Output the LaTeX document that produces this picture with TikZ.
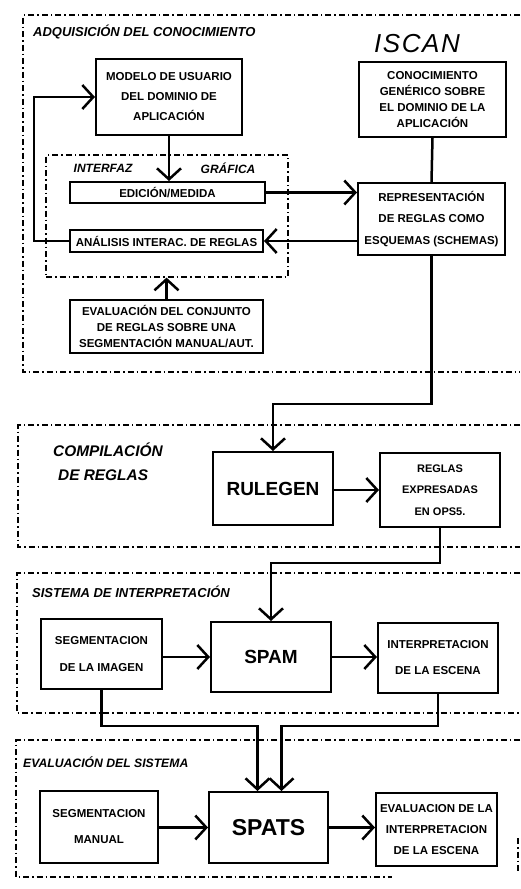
\documentclass[tikz,border=0pt]{standalone}
\usepackage{fontspec}
\setmainfont{Liberation Sans}
\usetikzlibrary{arrows.meta}

\tikzset{
  frame/.style={line width=1.2pt, dash pattern=on 6pt off 3pt on 1.5pt off 3pt},
  block/.style={draw, line width=2pt, inner sep=0pt, align=center,
    font=\fontsize{11.5}{20}\selectfont\bfseries},
  bigblock/.style={block, font=\fontsize{19}{22}\selectfont\bfseries},
  section/.style={inner sep=0pt, font=\fontsize{13}{15}\selectfont\bfseries\itshape},
  conn/.style={line width=2.5pt},
  arr/.style={conn, -{Straight Barb[length=11pt,width=24pt,line width=2.5pt]}}
}

\begin{document}
\begin{tikzpicture}[x=1pt,y=-1pt]
\useasboundingbox (0,0) rectangle (520,889);

% section frames (open on the right)
\draw[frame] (520,15) -- (23,15) -- (23,372) -- (520,372);
\draw[frame] (520,425) -- (18,425) -- (18,547) -- (520,547);
\draw[frame] (520,573) -- (17,573) -- (17,713) -- (520,713);
\draw[frame] (520,740) -- (16,740) -- (16,877) -- (392,877);
\draw[frame] (518,838) -- (518,872);

% section titles
\node[section, anchor=west] (tadq) at (33,32) {ADQUISICIÓN DEL CONOCIMIENTO};
\node[inner sep=0pt, font=\fontsize{26}{28}\selectfont\itshape\addfontfeatures{LetterSpace=6}] (iscan) at (417,44) {ISCAN};
\node[section, anchor=west, font=\fontsize{15.4}{18}\selectfont\bfseries\itshape] (tcomp1) at (53,450) {COMPILACIÓN};
\node[section, anchor=west, font=\fontsize{15.4}{18}\selectfont\bfseries\itshape] (tcomp2) at (58,475) {DE REGLAS};
\node[section, anchor=west] (tsis) at (32,592) {SISTEMA DE INTERPRETACIÓN};
\node[section, anchor=west, font=\fontsize{12.2}{14}\selectfont\bfseries\itshape] (teval) at (23,762) {EVALUACIÓN DEL SISTEMA};

% graphical interface frame
\node[frame, draw, minimum width=242pt, minimum height=122pt, inner sep=0pt] (iface) at (167,216) {};
\node[section, font=\fontsize{12}{14}\selectfont\bfseries\itshape] (tint) at (103,168) {INTERFAZ};
\node[section, font=\fontsize{12}{14}\selectfont\bfseries\itshape] (tgraf) at (228,168) {GRÁFICA};

% knowledge acquisition blocks
\node[block, minimum width=146pt, minimum height=76pt] (modelo) at (169,97)
  {MODELO DE USUARIO\\DEL DOMINIO DE\\APLICACIÓN};
\node[block, minimum width=147pt, minimum height=75pt, font=\fontsize{11.5}{16}\selectfont\bfseries] (generico) at (432.5,99.5)
  {CONOCIMIENTO\\GENÉRICO SOBRE\\EL DOMINIO DE LA\\APLICACIÓN};
\node[block, minimum width=195pt, minimum height=21pt] (edicion) at (167.5,192.5) {EDICIÓN/MEDIDA};
\node[block, minimum width=193pt, minimum height=22pt] (analisis) at (166.5,241) {ANÁLISIS INTERAC. DE REGLAS};
\node[block, minimum width=147pt, minimum height=72pt, font=\fontsize{11.5}{21.5}\selectfont\bfseries] (repr) at (431.5,219)
  {REPRESENTACIÓN\\DE REGLAS COMO\\ESQUEMAS (SCHEMAS)};
\node[block, minimum width=193pt, minimum height=53pt, font=\fontsize{11.5}{16}\selectfont\bfseries] (evalreg) at (166.5,326.5)
  {EVALUACIÓN DEL CONJUNTO\\DE REGLAS SOBRE UNA\\SEGMENTACIÓN MANUAL/AUT.};

% rule compilation blocks
\node[bigblock, minimum width=120pt, minimum height=73pt] (rulegen) at (273,488.5) {RULEGEN};
\node[block, minimum width=120pt, minimum height=74pt, font=\fontsize{11}{21.5}\selectfont\bfseries] (reglas) at (440,490)
  {REGLAS\\EXPRESADAS\\EN OPS5.};

% interpretation blocks
\node[block, minimum width=121pt, minimum height=70pt, font=\fontsize{11.5}{27}\selectfont\bfseries] (segimg) at (101.5,654)
  {SEGMENTACION\\DE LA IMAGEN};
\node[bigblock, minimum width=120pt, minimum height=70pt] (spam) at (271,657) {SPAM};
\node[block, minimum width=120pt, minimum height=70pt, font=\fontsize{11.5}{26}\selectfont\bfseries] (interp) at (438,658)
  {INTERPRETACION\\DE LA ESCENA};

% evaluation blocks
\node[block, minimum width=118pt, minimum height=72pt, font=\fontsize{11.5}{26}\selectfont\bfseries] (segman) at (99,827)
  {SEGMENTACION\\MANUAL};
\node[bigblock, minimum width=119pt, minimum height=71pt, font=\fontsize{23}{26}\selectfont\bfseries] (spats) at (268.5,827.5) {SPATS};
\node[block, minimum width=121pt, minimum height=73pt, font=\fontsize{11.5}{21}\selectfont\bfseries] (evalint) at (436.5,829.5)
  {EVALUACION DE LA\\INTERPRETACION\\DE LA ESCENA};

% connectors: knowledge acquisition
\draw[arr] (modelo.south) -- (modelo.south |- edicion.north);
\draw[arr] (edicion.east) -- (edicion.east -| repr.west);
\draw[arr] (repr.west |- analisis.east) -- (analisis.east);
\draw[arr] (analisis.west) -- ++(-35,0) |- (modelo.west);
\draw[conn] (generico.south) -- (repr.north);
\draw[arr] (evalreg.north) -- (evalreg.north |- iface.south);

% connectors between sections
\draw[arr] (repr.south) -- ++(0,148) -| (rulegen.north);
\draw[arr] (rulegen.east |- reglas.west) -- (reglas.west);
\draw[arr] (reglas.south) -- ++(0,35) -| (spam.north);
\draw[arr] (spam.west -| segimg.east) -- (spam.west);
\draw[arr] (spam.east) -- (spam.east -| interp.west);
\draw[arr] (segimg.south) -- ++(0,36) -| ([xshift=-11pt]spats.north);
\draw[arr] (interp.south) -- ++(0,32) -| ([xshift=13pt]spats.north);
\draw[arr] (segman.east |- spats.west) -- (spats.west);
\draw[arr] (spats.east) -- (spats.east -| evalint.west);
\end{tikzpicture}
\end{document}
